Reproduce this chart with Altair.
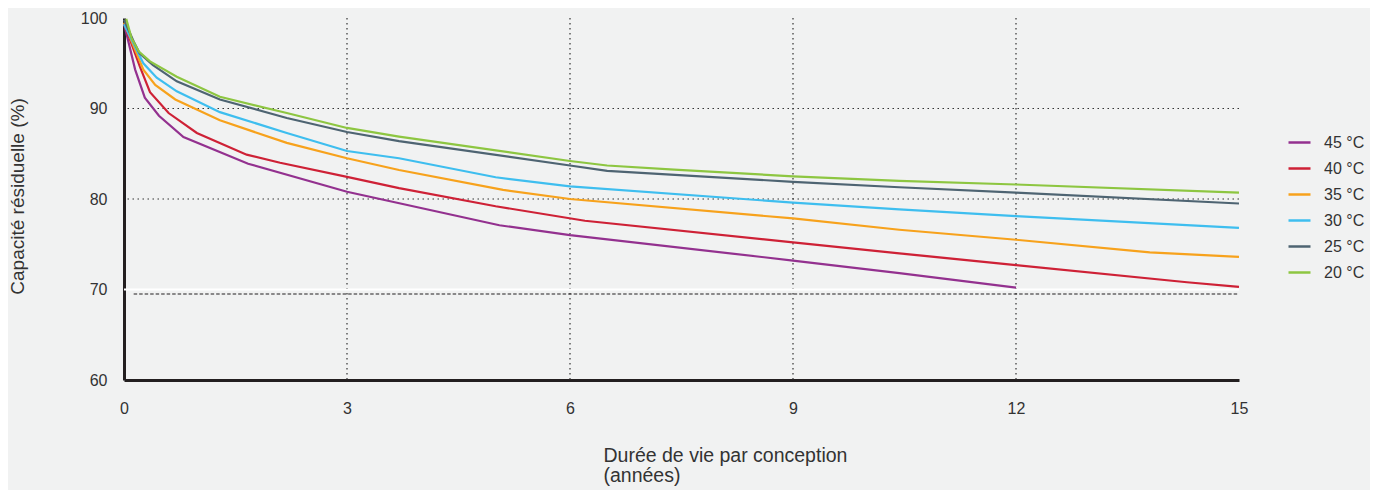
import altair as alt
import pandas as pd

# ---- data ----
temps = ["45 °C", "40 °C", "35 °C", "30 °C", "25 °C", "20 °C"]
colors = ["#93318F", "#CE2136", "#F7A21C", "#3EBEEF", "#4E6472", "#8DC641"]

years_45 = [0, 0.15, 0.28, 0.47, 0.8, 1.67, 3.0, 5.05, 6.0, 9.0, 10.43, 12.0]
cap_45 = [99.4, 94.3, 91.2, 89.2, 86.85, 83.9, 80.8, 77.1, 76.0, 73.2, 71.8, 70.2]

years_40 = [0, 0.215, 0.35, 0.6, 0.98, 1.65, 2.1, 3.0, 3.7, 5.0, 6.2, 9.0, 10.43, 12.0, 14.3, 15.0]
cap_40 = [99.4, 94.6, 91.8, 89.5, 87.3, 84.9, 84.0, 82.45, 81.2, 79.2, 77.6, 75.2, 74.0, 72.7, 70.8, 70.3]

years_35 = [0, 0.26, 0.42, 0.69, 1.29, 2.19, 3.0, 3.7, 5.1, 6.0, 9.0, 10.43, 12.0, 13.8, 15.0]
cap_35 = [99.5, 94.3, 92.6, 91.0, 88.7, 86.2, 84.5, 83.2, 81.0, 80.0, 77.85, 76.6, 75.5, 74.1, 73.6]

years_30 = [0, 0.26, 0.44, 0.71, 1.29, 2.19, 3.0, 3.7, 5.0, 6.0, 9.0, 10.43, 12.0, 15.0]
cap_30 = [99.3, 95.0, 93.4, 91.9, 89.6, 87.3, 85.3, 84.5, 82.4, 81.4, 79.6, 78.85, 78.1, 76.8]

years_25 = [0, 0.13, 0.21, 0.39, 0.71, 1.29, 2.19, 3.0, 3.7, 6.0, 6.5, 9.0, 10.43, 12.0, 15.0]
cap_25 = [99.8, 97.4, 96.1, 94.8, 93.0, 91.0, 88.95, 87.4, 86.4, 83.7, 83.1, 81.9, 81.3, 80.7, 79.5]

years_20 = [0.03, 0.1, 0.2, 0.35, 0.71, 1.29, 2.19, 3.0, 3.7, 6.0, 6.5, 7.4, 9.0, 10.43, 12.0, 15.0]
cap_20 = [99.9, 97.8, 96.3, 95.2, 93.5, 91.3, 89.5, 87.85, 86.9, 84.2, 83.7, 83.25, 82.5, 82.0, 81.6, 80.7]

x_ticks = [0, 3, 6, 9, 12, 15]
y_ticks = [60, 70, 80, 90, 100]
x_grid = [3, 6, 9, 12]
y_grid = [80, 90]
white_line = [70]
threshold = [69.5]
threshold_start = [0.13]
threshold_end = [15]

# ---- build table ----
series = [
    (temps[0], years_45, cap_45),
    (temps[1], years_40, cap_40),
    (temps[2], years_35, cap_35),
    (temps[3], years_30, cap_30),
    (temps[4], years_25, cap_25),
    (temps[5], years_20, cap_20),
]
rows = []
for t, xs, ys in series:
    for x, y in zip(xs, ys):
        rows.append({"temp": t, "year": x, "cap": y})
df = pd.DataFrame(rows)

FONT = "Liberation Sans"
x_scale = alt.Scale(domain=[0, 15], nice=False, zero=False)
y_scale = alt.Scale(domain=[60, 100], nice=False, zero=False)

lines = alt.Chart(df).mark_line(strokeWidth=2.2).encode(
    x=alt.X("year:Q", scale=x_scale,
            axis=alt.Axis(values=x_ticks, format="d", grid=False, ticks=False,
                          labelFlush=False,
                          domainColor="#231F20", domainWidth=3,
                          labelFontSize=16, labelColor="#333333", labelPadding=20,
                          labelFont=FONT,
                          title=["Durée de vie par conception", "(années)"],
                          titleFont=FONT, titleFontSize=19.5, titleFontWeight="normal",
                          titleColor="#333333", titleAlign="left", titleBaseline="alphabetic",
                          titleX=479, titleY=81, titleLineHeight=20)),
    y=alt.Y("cap:Q", scale=y_scale,
            axis=alt.Axis(values=y_ticks, format="d", grid=False, ticks=False,
                          labelFlush=False,
                          domainColor="#231F20", domainWidth=3,
                          labelFontSize=16, labelColor="#333333", labelPadding=17,
                          labelFont=FONT,
                          title="Capacité résiduelle (%)",
                          titleFont=FONT, titleFontSize=19, titleFontWeight="normal",
                          titleColor="#333333", titleAlign="center", titleBaseline="middle",
                          titleAngle=270, titleX=-107, titleY=178)),
    color=alt.Color("temp:N", scale=alt.Scale(domain=temps, range=colors),
                    legend=alt.Legend(title=None, orient="none", legendX=1163, legendY=112,
                                      symbolType="stroke", symbolSize=484,
                                      symbolStrokeWidth=2.5, labelFontSize=16,
                                      labelFont=FONT, labelColor="#333333",
                                      labelOffset=12, rowPadding=5)),
)

vgrid = alt.Chart(pd.DataFrame({"year": x_grid})).mark_rule(
    strokeDash=[1.5, 3.5], color="#333333", strokeWidth=1.2
).encode(x=alt.X("year:Q", scale=x_scale))

hgrid = alt.Chart(pd.DataFrame({"cap": y_grid})).mark_rule(
    strokeDash=[1.5, 3.5], color="#333333", strokeWidth=1.2
).encode(y=alt.Y("cap:Q", scale=y_scale))

wline = alt.Chart(pd.DataFrame({"cap": white_line})).mark_rule(
    color="#FFFFFF", strokeWidth=2
).encode(y=alt.Y("cap:Q", scale=y_scale))

dline = alt.Chart(pd.DataFrame({"cap": threshold, "year": threshold_start, "year2": threshold_end})).mark_rule(
    color="#231F20", strokeWidth=1.1, strokeDash=[3.5, 2]
).encode(
    y=alt.Y("cap:Q", scale=y_scale),
    x=alt.X("year:Q", scale=x_scale),
    x2="year2:Q",
)

chart = alt.layer(vgrid, hgrid, wline, dline, lines).properties(
    width=1115, height=362,
    autosize=alt.AutoSizeParams(type="none"),
    padding={"left": 116, "top": 10, "right": 131, "bottom": 110},
).configure(background="#F1F2F2", font=FONT).configure_view(stroke=None)

chart.save("out.html", embed_options={"renderer": "svg", "actions": False})
